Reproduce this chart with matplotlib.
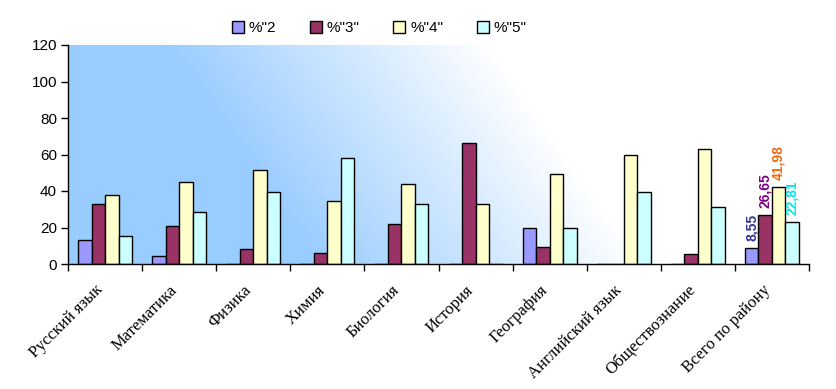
import numpy as np
import matplotlib
matplotlib.use("Agg")
import matplotlib.pyplot as plt
import matplotlib.transforms as mtransforms

categories = ["Русский язык", "Математика", "Физика", "Химия", "Биология",
              "История", "География", "Английский язык", "Обществознание",
              "Всего по району"]
s2 = [13, 4.5, 0, 0, 0, 0, 19.6, 0, 0, 8.55]
s3 = [33, 21, 8.3, 6, 21.8, 66.4, 9.2, 0, 5.4, 26.65]
s4 = [38, 45, 51.6, 34.5, 43.9, 32.9, 49.4, 59.8, 63.1, 41.98]
s5 = [15.3, 28.6, 39.5, 58.2, 32.9, 0, 19.6, 39.5, 31.2, 22.81]
series_names = ['%"2', '%"3"', '%"4"', '%"5"']
last_labels = ["8,55", "26,65", "41,98", "22,81"]

colors = ["#9999ff", "#993366", "#ffffcc", "#ccffff"]
label_colors = ["#333399", "#800080", "#f06a10", "#00e8f0"]

plt.rcParams['font.family'] = ['Liberation Sans', 'DejaVu Sans']

fig = plt.figure(figsize=(8.37, 3.89), dpi=100)
L, R, T, B = 68, 809, 45, 264
ax = fig.add_axes([L / 837, 1 - B / 389, (R - L) / 837, (B - T) / 389])

# background gradient (diagonal, blue to white)
W, H = R - L, B - T
xx, yy = np.meshgrid(np.arange(W), np.arange(H))
t = xx - 0.7 * yy
s = np.clip((t - 92) / 330.0, 0, 1)
blue = np.array([0x99, 0xcc, 0xff]) / 255.0
img = blue[None, None, :] * (1 - s[..., None]) + np.ones(3)[None, None, :] * s[..., None]
ax.imshow(img, extent=[0, 1, 0, 1], transform=ax.transAxes, aspect='auto', zorder=0)

n = len(categories)
x = np.arange(n)
w = 0.182
data = [s2, s3, s4, s5]
bars = []
for i, (vals, c, name) in enumerate(zip(data, colors, series_names)):
    b = ax.bar(x + (i - 1.5) * w, vals, width=w, color=c, edgecolor='black',
               linewidth=1.0, label=name, zorder=2)
    bars.append(b)

# labels for last group
for i, (b, lab, lc) in enumerate(zip(bars, last_labels, label_colors)):
    rect = b[-1]
    ax.annotate(lab, (rect.get_x() + rect.get_width() / 2, rect.get_height()),
                xytext=(0, 5), textcoords='offset points',
                rotation=90, ha='center', va='bottom', color=lc, fontsize=10,
                fontweight='bold', zorder=3)

ax.set_xlim(-0.5, n - 0.5)
ax.set_ylim(0, 120)
ax.set_yticks(np.arange(0, 121, 20))
ax.tick_params(axis='y', labelsize=11, length=5, width=1, direction='out', pad=3)
ax.set_xticks(x)
ax.set_xticklabels(categories, rotation=45, ha='right', rotation_mode='anchor',
                   fontsize=12, family=['Liberation Serif'])
ax.tick_params(axis='x', length=0, pad=13)
shift = mtransforms.ScaledTranslation(-10 / 100, 0, fig.dpi_scale_trans)
for lbl in ax.get_xticklabels():
    lbl.set_transform(lbl.get_transform() + shift)
ax.set_xticks(np.arange(-0.5, n, 1.0), minor=True)
ax.tick_params(axis='x', which='minor', length=5, width=1, direction='out')

for sp in ['top', 'right']:
    ax.spines[sp].set_visible(False)
for sp in ['left', 'bottom']:
    ax.spines[sp].set_linewidth(1)

leg = fig.legend(handles=bars, labels=series_names, loc='center',
                 bbox_to_anchor=(0.453, 1 - 28 / 389), ncol=4, frameon=False,
                 fontsize=11, handlelength=0.8, handleheight=0.8,
                 handletextpad=0.3, columnspacing=2.2)

fig.savefig("out.png", dpi=100)
